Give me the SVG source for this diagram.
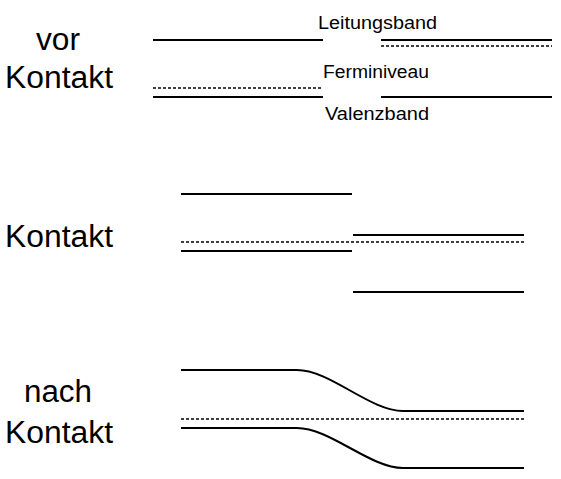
<svg xmlns="http://www.w3.org/2000/svg" width="561" height="479" viewBox="0 0 561 479">
<style>
.big{font-family:"Liberation Sans",Arial,sans-serif;font-size:31px;fill:#000}
.small{font-family:"Liberation Sans",Arial,sans-serif;font-size:17.5px;fill:#000}
.s{stroke:#000;stroke-width:2;fill:none}
.d{stroke:#000;stroke-width:1.5;fill:none;stroke-dasharray:3,2}
</style>
<rect width="561" height="479" fill="#fff"/>
<g id="labels">
<text class="big" x="36" y="50" textLength="44" lengthAdjust="spacingAndGlyphs">vor</text>
<text class="big" x="5" y="88" textLength="108" lengthAdjust="spacingAndGlyphs">Kontakt</text>
<text class="big" x="5" y="247" textLength="108" lengthAdjust="spacingAndGlyphs">Kontakt</text>
<text class="big" x="24" y="402" textLength="68" lengthAdjust="spacingAndGlyphs">nach</text>
<text class="big" x="5" y="443" textLength="108" lengthAdjust="spacingAndGlyphs">Kontakt</text>
<text class="small" x="318" y="29" textLength="119" lengthAdjust="spacingAndGlyphs">Leitungsband</text>
<text class="small" x="323" y="78" textLength="106" lengthAdjust="spacingAndGlyphs">Ferminiveau</text>
<text class="small" x="325" y="120" textLength="104" lengthAdjust="spacingAndGlyphs">Valenzband</text>
</g>
<g id="vor">
<line class="s" x1="153" y1="40" x2="323" y2="40"/>
<line class="d" x1="153" y1="88" x2="323" y2="88"/>
<line class="s" x1="153" y1="97" x2="323" y2="97"/>
<line class="s" x1="381" y1="40" x2="552" y2="40"/>
<line class="d" x1="381" y1="46" x2="552" y2="46"/>
<line class="s" x1="381" y1="97" x2="552" y2="97"/>
</g>
<g id="kontakt">
<line class="s" x1="181" y1="194" x2="352" y2="194"/>
<line class="s" x1="181" y1="251" x2="352" y2="251"/>
<line class="s" x1="353" y1="235" x2="524" y2="235"/>
<line class="s" x1="353" y1="292" x2="524" y2="292"/>
<line class="d" x1="181" y1="242" x2="524" y2="242"/>
</g>
<g id="nach">
<path class="s" d="M181 370 H297 C330 370 370 411 403 411 H524"/>
<path class="s" d="M181 428 H297 C330 428 370 468 403 468 H524"/>
<line class="d" x1="181" y1="419" x2="524" y2="419"/>
</g>
</svg>
